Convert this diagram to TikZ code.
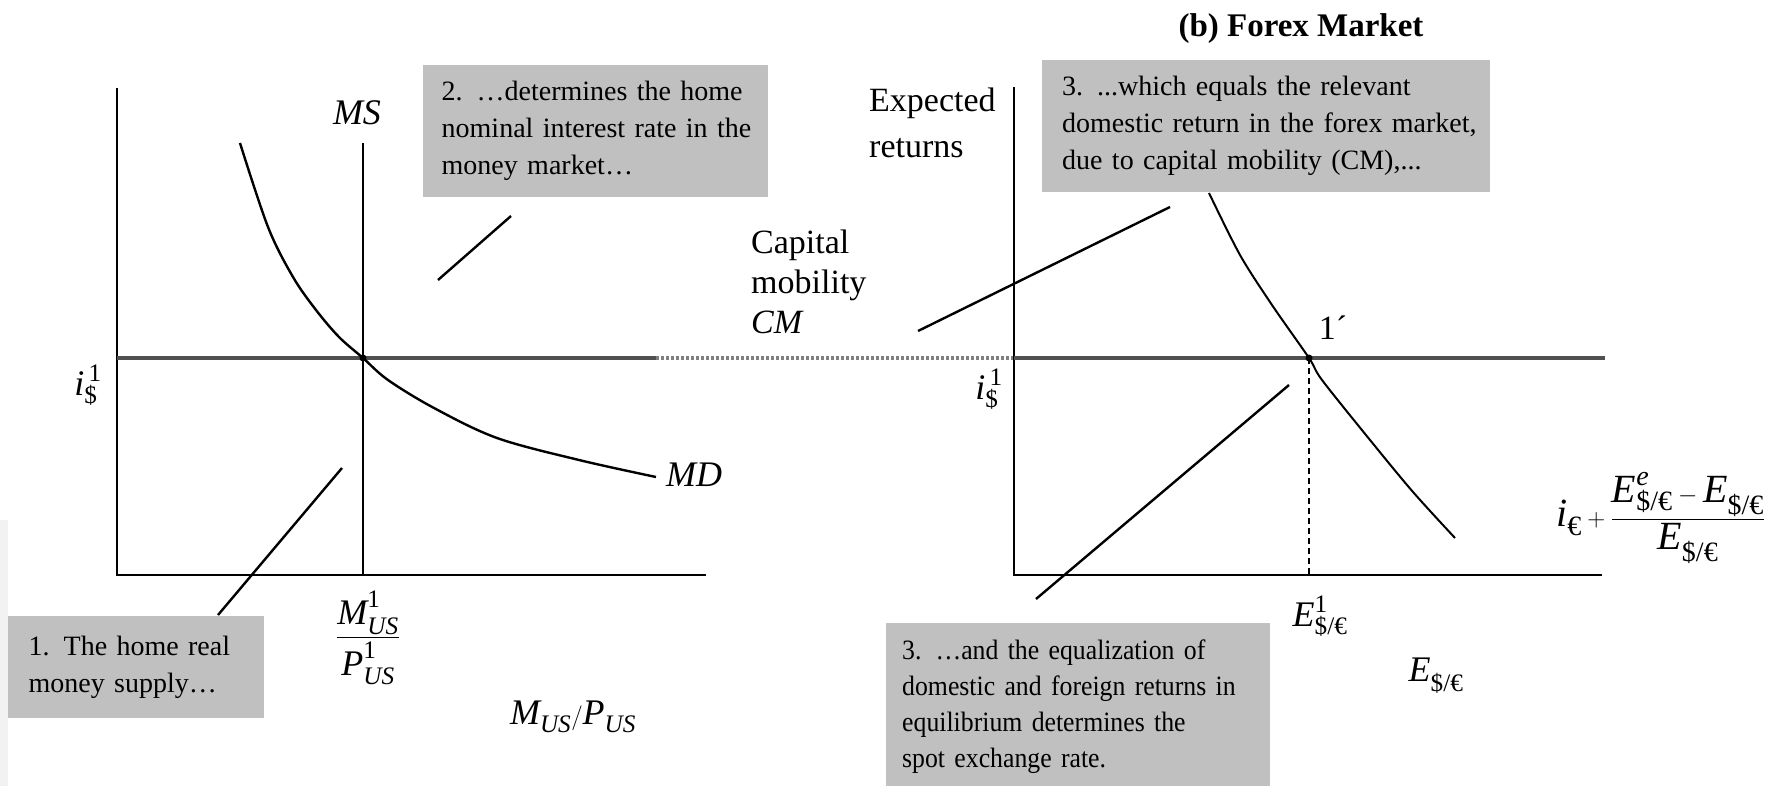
\documentclass[tikz,border=0pt]{standalone}
\usepackage{amsmath}
\usepackage{fontspec}
\setmainfont{Liberation Serif}
\newfontfamily\condserif{Liberation Serif}[FakeStretch=0.92]
\definecolor{boxgray}{RGB}{192,192,192}
\definecolor{linegray}{RGB}{80,80,80}
\definecolor{dotgray}{RGB}{128,128,128}
\begin{document}
\begin{tikzpicture}[x=1pt,y=-1pt,
  axisline/.style={line width=1.5pt,black},
  curveline/.style={line width=2.4pt,black,line join=round},
  leader/.style={line width=2.4pt,black},
  gbox/.style={fill=boxgray,draw=none,inner sep=0pt,align=left,anchor=north west,
    font=\fontsize{28}{37}\selectfont},
  lbl/.style={inner sep=0pt,font=\fontsize{34}{40}\selectfont},
  mlbl/.style={inner sep=0pt,font=\fontsize{36}{42}\selectfont},
  dotpt/.style={circle,fill=black,inner sep=0pt,minimum size=7pt}]
\useasboundingbox (0,0) rectangle (1775,786);
\fill[black!5] (0,520) rectangle (8,786);

% ---------- left panel: money market ----------
\draw[axisline] (117,88) -- (117,575) -- (706,575);
\draw[axisline] (363,143) -- (363,575);
\draw[line width=3.5pt,linegray] (117,358) -- (656,358);
\draw[line width=3.5pt,dotgray,dash pattern=on 3pt off 2pt] (656,358) -- (1014,358);
\draw[curveline] plot[smooth,tension=0.55] coordinates {(240,143) (268,227) (293,277) (316,310) (339,337) (363,358) (388,380) (434,408) (497,438) (579,460) (656,477)};
\node[dotpt] (eq1) at (363,358) {};
\node[mlbl] (ms) at (357,113) {\textit{MS}};
\node[mlbl] (md) at (694,475) {\textit{MD}};
\node[mlbl] (il) at (88,385) {$\textit{i}^{\,\text{1}}_{\text{\$}}$};
\node[mlbl] (mp1) at (368,638) {$\dfrac{\textit{M}^{\text{\raisebox{3pt}{1}}}_{\text{\raisebox{-3pt}{\itshape US}}}\rule[-8pt]{0pt}{0pt}}{\rule{0pt}{34pt}\textit{P}^{\text{\raisebox{3pt}{1}}}_{\text{\raisebox{-3pt}{\itshape US}}}}$};
\node[mlbl] (mp) at (573,717) {$\textit{M}_{\textit{US}}/\textit{P}_{\textit{US}}$};

\node[gbox,minimum width=256pt,minimum height=102pt,text width=215pt] (b1) at (8,616)
  {\makebox[215pt][s]{1. The home real}\\money supply…};
\node[gbox,minimum width=345pt,minimum height=132pt,text width=308pt] (b2) at (423,65)
  {\makebox[308pt][s]{2. …determines the home}\\\makebox[308pt][s]{nominal interest rate in the}\\money market…};
\coordinate (l1a) at (218,615); \coordinate (l1b) at (342,468);
\coordinate (l2a) at (438,280); \coordinate (l2b) at (511,216);
\draw[leader] (l1a) -- (l1b);
\draw[leader] (l2a) -- (l2b);

\node[lbl,align=left,anchor=north west] (cm) at (751,230) {Capital\\mobility\\\textit{CM}};

% ---------- right panel: forex market ----------
\node[inner sep=0pt,font=\fontsize{33}{40}\selectfont\bfseries,anchor=base] (title) at (1301,37) {(b) Forex Market};
\node[lbl,align=left,anchor=north west,font=\fontsize{34}{46}\selectfont] (er) at (869,88) {Expected\\returns};
\draw[axisline] (1014,87) -- (1014,575) -- (1602,575);
\draw[line width=3.5pt,linegray] (1014,358) -- (1605,358);
\draw[line width=1.2pt,dash pattern=on 6pt off 4pt] (1309,358) -- (1309,575);
\draw[line width=2pt,line join=round] plot[smooth,tension=0.5] coordinates {(1209,193) (1240,255) (1272,305) (1309,358) (1322,380) (1370,440) (1413,492) (1455,538)};
\node[dotpt] (eq2) at (1309,358) {};
\node[lbl] (one) at (1333,328) {1´};
\node[mlbl] (ir) at (989,389) {$\textit{i}^{\,\text{1}}_{\text{\$}}$};
\node[mlbl] (e1) at (1320,616) {$\textit{E}^{\text{1}}_{\text{\$/€}}$};
\node[mlbl] (ex) at (1436,676) {$\textit{E}_{\text{\$/€}}$};
\node[mlbl,anchor=west,font=\fontsize{40}{46}\selectfont] (fr) at (1556,518) {$\textit{i}_{\text{€}}+\dfrac{\textit{E}^{\textit{e}}_{\text{\$/€}}-\textit{E}_{\text{\$/€}}}{\textit{E}_{\text{\$/€}}}$};

\node[gbox,minimum width=448pt,minimum height=132pt,text width=408pt] (b3) at (1042,60)
  {\makebox[408pt][s]{3. ...which equals the relevant}\\\makebox[408pt][s]{domestic return in the forex market,}\\due to capital mobility (CM),...};
\node[gbox,minimum width=384pt,minimum height=166pt,text width=352pt,
  font=\fontsize{28}{36}\selectfont\condserif] (b4) at (886,623)
  {3. …and the equalization of\\domestic and foreign returns in\\equilibrium determines the\\spot exchange rate.};
\coordinate (l3a) at (918,331); \coordinate (l3b) at (1170,207);
\coordinate (l4a) at (1036,599); \coordinate (l4b) at (1289,385);
\draw[leader] (l3a) -- (l3b);
\draw[leader] (l4a) -- (l4b);
\end{tikzpicture}
\end{document}
